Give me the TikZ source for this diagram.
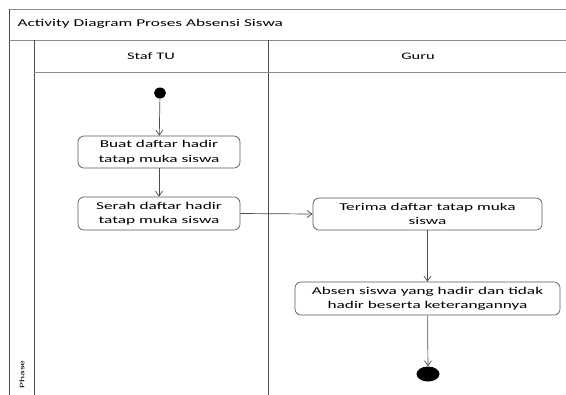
\documentclass[tikz,border=0pt]{standalone}
\usepackage{fontspec}
\setmainfont[FakeStretch=1.65]{Carlito}
\usetikzlibrary{arrows.meta,shapes.geometric}
\begin{document}
\begin{tikzpicture}[x=1bp,y=-1bp,
  frameline/.style={draw=black!70,line width=0.8pt},
  lightline/.style={draw=black!45,line width=0.9pt},
  action/.style={draw=black!65,line width=0.7pt,rounded corners=6bp,fill=white,
    align=center,font=\fontsize{10.5}{14.5}\selectfont,inner sep=0pt},
  flow/.style={draw=black!70,line width=0.7pt,-{Straight Barb[length=5bp,width=7bp]}},
  lanelabel/.style={font=\fontsize{10}{11}\selectfont}]
\useasboundingbox (0,0) rectangle (566,394);
\clip (0,0) rectangle (566,394);
\fill[white] (0,0) rectangle (566,394);
% pool frame and title bar
\draw[lightline] (9,9) -- (570,9);
\draw[frameline] (9,9) -- (9,400);
\draw[lightline] (9,40) -- (570,40);
\node[anchor=west,font=\fontsize{10.5}{11}\selectfont] (title) at (14,24) {Activity Diagram Proses Absensi Siswa};
% phase strip and lanes
\draw[frameline] (34,40) -- (34,400);
\draw[frameline] (268,40) -- (268,400);
\draw[lightline] (34,72) -- (570,72);
\node[lanelabel] (staf) at (151,56) {Staf TU};
\node[lanelabel] (guru) at (418,56) {Guru};
\node[rotate=90,font=\fontsize{7}{8}\selectfont,anchor=west] (phase) at (22,392) {Phase};
% activity nodes
\node[fill=black,ellipse,minimum width=12bp,minimum height=11bp,inner sep=0pt] (start) at (160,93) {};
\node[action,minimum width=162bp,minimum height=32bp] (a1) at (159,152) {Buat daftar hadir\\tatap muka siswa};
\node[action,minimum width=162bp,minimum height=33bp] (a2) at (159,213.5) {Serah daftar hadir\\tatap muka siswa};
\node[action,minimum width=229bp,minimum height=32bp] (a3) at (427.5,214) {Terima daftar tatap muka\\siswa};
\node[action,minimum width=265bp,minimum height=33bp] (a4) at (427.5,298.5) {Absen siswa yang hadir dan tidak\\hadir beserta keterangannya};
\node[fill=black,ellipse,minimum width=23bp,minimum height=15bp,inner sep=0pt] (end) at (428,374) {};
% control flows
\draw[flow] (start) -- (a1);
\draw[flow] (a1) -- (a2);
\draw[flow] (a2.east) -- (a3.west);
\draw[flow] (a3) -- (a4);
\draw[flow] (a4) -- (end);
\end{tikzpicture}
\end{document}
